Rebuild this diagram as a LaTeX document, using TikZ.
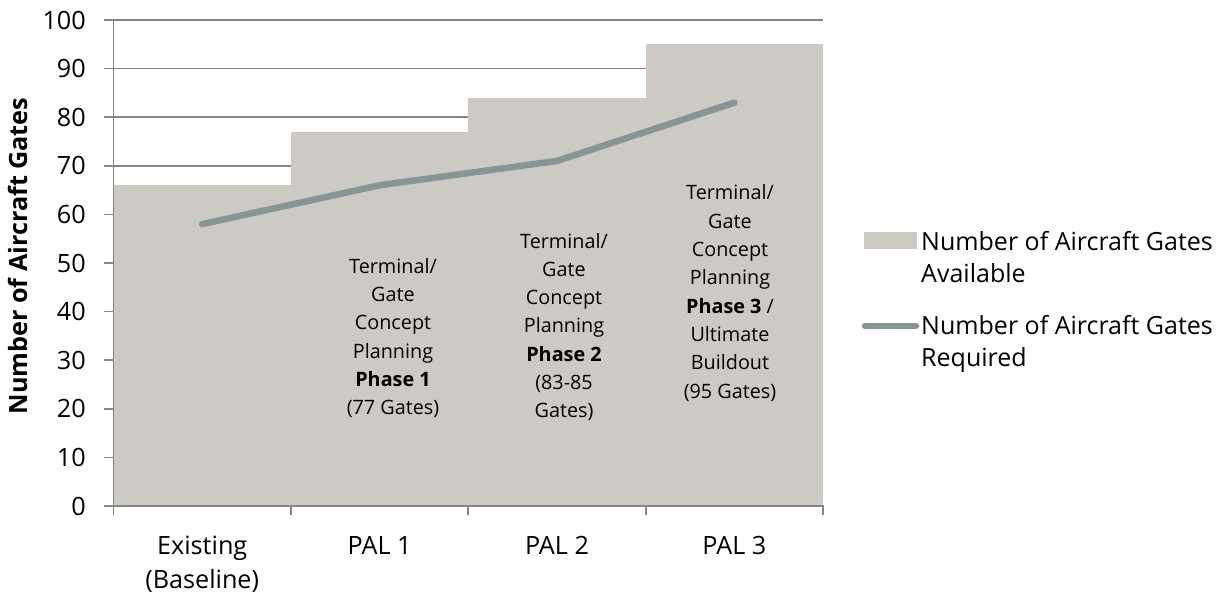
\documentclass[tikz,border=0pt]{standalone}
\usepackage{fontspec}
\setmainfont{Open Sans}
\definecolor{barcol}{HTML}{CDCAC5}
\definecolor{linecol}{HTML}{879694}
\definecolor{gridgray}{HTML}{868686}
\begin{document}
\begin{tikzpicture}[x=1pt,y=-1pt,
  grid/.style={draw=gridgray,line width=1.7pt},
  reqline/.style={draw=linecol,line width=6.5pt,line cap=round,line join=round},
  ticklab/.style={anchor=east,inner sep=0pt,font=\fontsize{25.2}{30}\selectfont},
  catlab/.style={anchor=north,align=center,inner sep=0pt,font=\fontsize{25.2}{33.5}\selectfont},
  note/.style={align=center,inner sep=0pt,font=\fontsize{19.8}{28.3}\selectfont},
  leg/.style={anchor=north west,align=left,inner sep=0pt,font=\fontsize{25}{32.5}\selectfont}]
\useasboundingbox (0,0) rectangle (1228,594);
% gridlines
\foreach \v in {10,20,...,100}
  \draw[grid] (113.5,{506-4.86*\v}) -- (823,{506-4.86*\v});
% bars (available)
\fill[barcol] (113.5,{506-4.86*66}) rectangle (290.9,506);
\fill[barcol] (290.9,{506-4.86*77}) rectangle (468.3,506);
\fill[barcol] (468.3,{506-4.86*84}) rectangle (645.7,506);
\fill[barcol] (645.7,{506-4.86*95}) rectangle (823.1,506);
% axes
\draw[grid] (113.5,20) -- (113.5,506);
\foreach \v in {0,10,...,100}{
  \draw[grid] (104,{506-4.86*\v}) -- (113.5,{506-4.86*\v});
  \node[ticklab] (t\v) at (86,{506-4.86*\v}) {\v};
}
\draw[grid] (113.5,506) -- (823.1,506);
\foreach \x in {113.5,290.9,468.3,645.7,823.1}
  \draw[grid] (\x,505) -- (\x,515);
% category labels
\node[catlab] (c0) at (202.2,536) {Existing\\(Baseline)};
\node[catlab] (c1) at (379.6,536) {PAL 1};
\node[catlab] (c2) at (557.0,536) {PAL 2};
\node[catlab] (c3) at (734.4,536) {PAL 3};
% axis title
\node[rotate=90,inner sep=0pt,font=\bfseries\fontsize{25.2}{30}\selectfont] (ytitle) at (18,256) {Number of Aircraft Gates};
% required line
\coordinate (r0) at (202.2,{506-4.86*58});
\coordinate (r1) at (379.6,{506-4.86*66});
\coordinate (r2) at (557.0,{506-4.86*71});
\coordinate (r3) at (734.4,{506-4.86*83});
\draw[reqline] (r0) -- (r1) -- (r2) -- (r3);
% notes
\node[note] (n1) at (393,338) {Terminal/\\Gate\\Concept\\Planning\\\textbf{Phase 1}\\(77 Gates)};
\node[note] (n2) at (564,327) {Terminal/\\Gate\\Concept\\Planning\\\textbf{Phase 2}\\(83-85\\Gates)};
\node[note] (n3) at (730,293) {Terminal/\\Gate\\Concept\\Planning\\\textbf{Phase 3} /\\Ultimate\\Buildout\\(95 Gates)};
% legend
\fill[barcol] (864,232) rectangle (917,249);
\node[leg] (l1) at (921,231) {Number of Aircraft Gates\\Available};
\coordinate (la) at (865,326);
\coordinate (lb) at (916,326);
\draw[reqline] (la) -- (lb);
\node[leg] (l2) at (921,315) {Number of Aircraft Gates\\Required};
\end{tikzpicture}
\end{document}
